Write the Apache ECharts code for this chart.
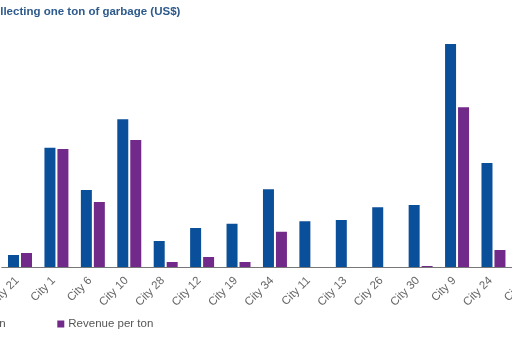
<!DOCTYPE html>
<html>
<head>
<meta charset="utf-8">
<script src="https://cdn.jsdelivr.net/npm/echarts@6/dist/echarts.min.js"></script>
<style>
html,body{margin:0;padding:0;width:512px;height:341px;overflow:hidden;background:#fff;}
#chart{position:absolute;left:-80px;top:0;width:700px;height:341px;}
</style>
</head>
<body>
<div id="chart"></div>
<script>
const titleText = 'Cost of collecting one ton of garbage (US$)';
const seriesNames = ['Cost per ton', 'Revenue per ton'];
const categories = ['City 21','City 1','City 6','City 10','City 28','City 12','City 19','City 34','City 11','City 13','City 26','City 30','City 9','City 24','City 5'];
const costPerTon = [4.8, 47.7, 30.8, 59.1, 10.4, 15.6, 17.3, 31.1, 18.3, 18.8, 23.9, 24.8, 89.2, 41.6, null];
const revenuePerTon = [5.6, 47.2, 26.0, 50.8, 2.0, 4.0, 2.0, 14.1, 0, 0, 0, 0.4, 63.9, 6.8, null];

const chart = echarts.init(document.getElementById('chart'), null, {renderer: 'canvas'});
const font = 'Liberation Sans, Arial, sans-serif';
chart.setOption({
  animation: false,
  title: {
    text: titleText,
    left: 24, top: 6, padding: 0,
    textStyle: {fontSize: 11.5, fontWeight: 'bold', color: '#2E5A8C', fontFamily: font}
  },
  legend: [
    {data: [seriesNames[0]], left: 12, top: 318, padding: 0, itemWidth: 7, itemHeight: 7, itemGap: 4,
     icon: 'rect', textStyle: {fontSize: 11.5, color: '#555', fontFamily: font, padding: [0,0,0,-1]}},
    {data: [seriesNames[1]], left: 137.3, top: 318, padding: 0, itemWidth: 7, itemHeight: 7, itemGap: 4,
     icon: 'rect', textStyle: {fontSize: 11.5, color: '#555', fontFamily: font, padding: [0,0,0,-1]}}
  ],
  grid: {left: 81.8, top: 17, width: 546.3, height: 250},
  xAxis: {
    type: 'category',
    data: categories,
    axisLine: {lineStyle: {color: '#777', width: 1}},
    axisTick: {show: false},
    axisLabel: {rotate: 45, margin: 9, interval: 0, fontSize: 11.5, color: '#666', fontFamily: font,
                padding: [0, 4, 0, 0]}
  },
  yAxis: {type: 'value', min: 0, max: 100, show: false, splitLine: {show: false}},
  series: [
    {name: seriesNames[0], type: 'bar', data: costPerTon, barWidth: 11, barGap: '18%',
     itemStyle: {color: '#0A4F9A'}},
    {name: seriesNames[1], type: 'bar', data: revenuePerTon, barWidth: 11, barGap: '18%',
     itemStyle: {color: '#722A8A'}}
  ]
});
</script>
</body>
</html>
